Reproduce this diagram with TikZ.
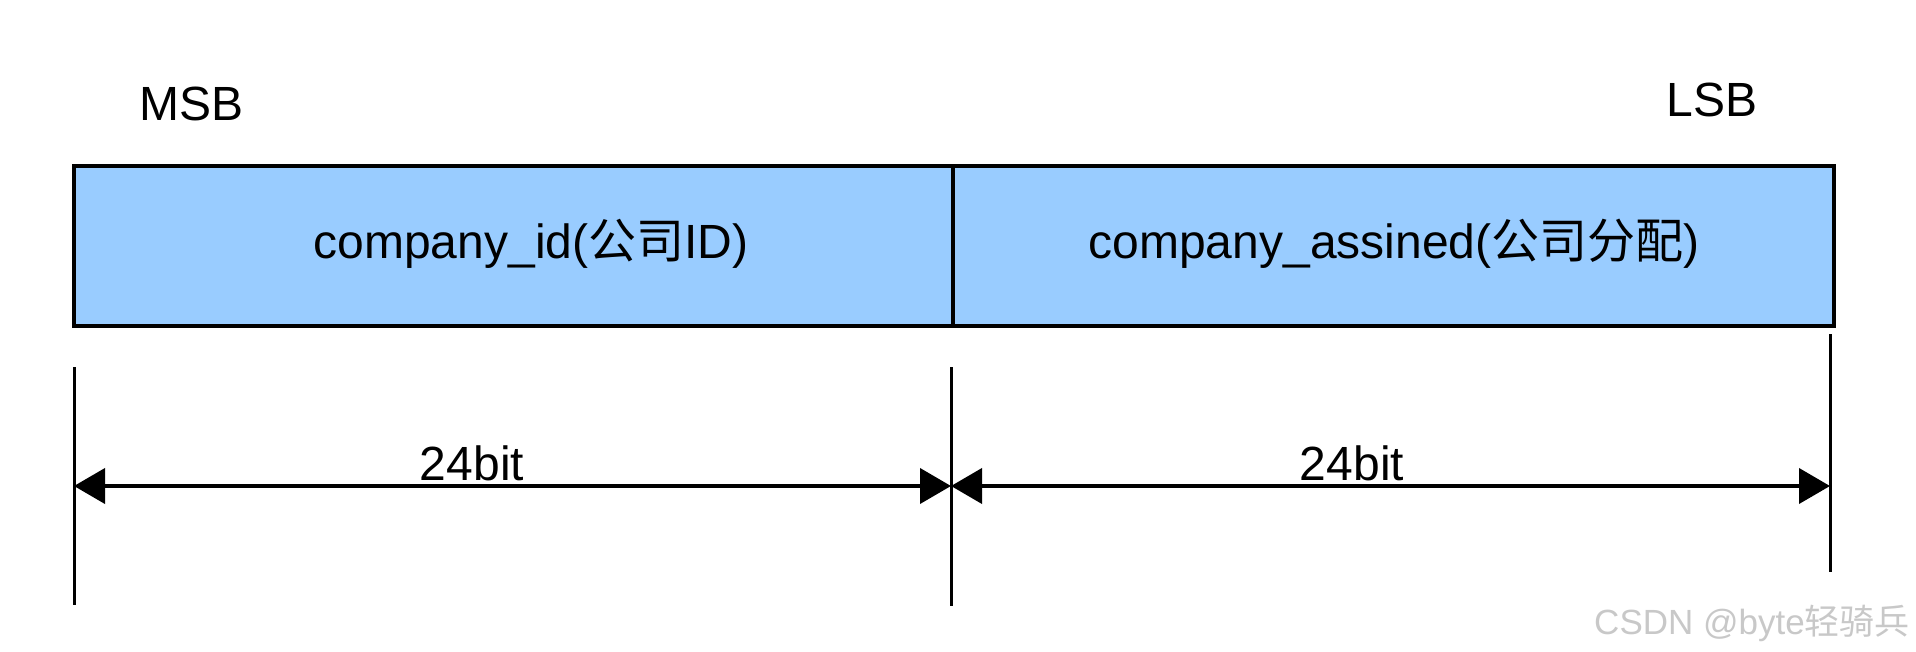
\documentclass[tikz,border=0pt]{standalone}
\usepackage{fontspec}
\setmainfont{Liberation Sans}
\newfontfamily\cjk{Noto Sans CJK SC}
\usepackage{xcolor}
\usepackage{tikz}
\usetikzlibrary{arrows.meta, positioning}
\definecolor{fieldblue}{HTML}{99CCFF}
\definecolor{markgray}{HTML}{C8C8C8}

\begin{document}
\begin{tikzpicture}[x=0.5pt, y=-0.5pt,
    field/.style={draw, line width=1.8pt, fill=fieldblue, minimum height=80pt, inner sep=0pt, outer sep=0pt},
    txt/.style={inner sep=0pt, font=\fontsize{24}{28}\selectfont},
    tick/.style={line width=1.5pt},
    dim/.style={line width=2pt, {Triangle[length=15.5pt,width=17.5pt]}-{Triangle[length=15.5pt,width=17.5pt]}}]
  \useasboundingbox (0,0) rectangle (1916,652);

  % register fields
  \node[field, minimum width=439.5pt] (cid) at (513.5,246) {};
  \node[field, minimum width=440.5pt, anchor=west] (cas) at (cid.east) {};
  \node[txt] (cidtext) at (531,244) {company\_id({\cjk 公司}ID)};
  \node[txt] (castext) at (1394,244) {company\_assined({\cjk 公司分配})};

  % bit order
  \node[txt] (msb) at (192,104) {MSB};
  \node[txt] (lsb) at (1712,100) {LSB};

  % extension lines
  \foreach \x/\t/\b in {74/367/605, 951/367/606, 1830/334/572}{
    \draw[tick] (\x,\t) -- (\x,\b);
  }

  % dimension arrows
  \coordinate (la) at (74,486);
  \coordinate (ma) at (951,486);
  \coordinate (ra) at (1830,486);
  \draw[dim] (la) -- (ma);
  \draw[dim] (ma) -- (ra);
  \node[txt] (bits1) at (472,463) {24bit};
  \node[txt] (bits2) at (1352,463) {24bit};

  % watermark
  \node[inner sep=0pt, text=markgray, font=\fontsize{17.5}{20}\selectfont] (mark) at (1752,623) {CSDN @byte{\cjk 轻骑兵}};
\end{tikzpicture}
\end{document}
